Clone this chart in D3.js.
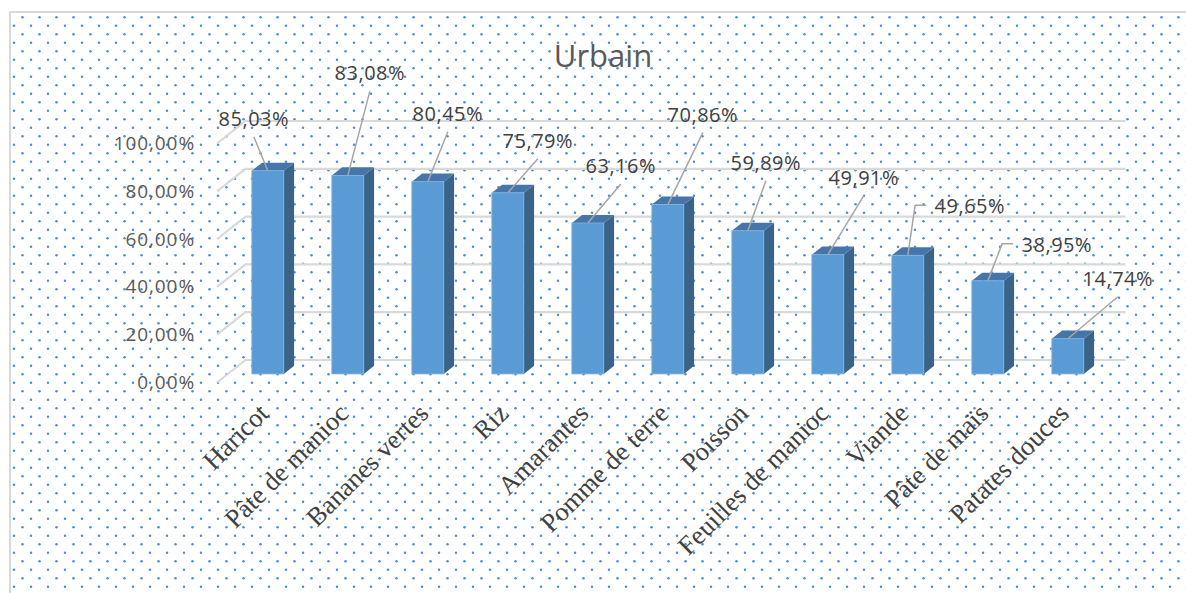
<!DOCTYPE html>
<html>
<head>
<meta charset="utf-8">
<script src="https://cdn.jsdelivr.net/npm/d3@7"></script>
<style>
  body { margin: 0; background: #fff; }
  svg { display: block; }
</style>
</head>
<body>
<script>
const width = 1186
const height = 593

// data
const categories = ['Haricot', 'Pâte de manioc', 'Bananes vertes', 'Riz', 'Amarantes', 'Pomme de terre',
  'Poisson', 'Feuilles de manioc', 'Viande', 'Pâte de maïs', 'Patates douces']
const values = [0.8503, 0.8308, 0.8045, 0.7579, 0.6316, 0.7086, 0.5989, 0.4991, 0.4965, 0.3895, 0.1474]
const yTicks = [0, 0.2, 0.4, 0.6, 0.8, 1]
const title = 'Urbain'

// where each data label sits, relative to the top of its bar (label centre x, baseline y)
const labelNudge = [[-14, -45], [22, -95], [20, -61], [30, -45], [33, -50], [35, -83],
  [18, -61], [36, -70], [62, -42], [69, -29], [50, -53]]
const elbowed = [8, 9]

const fr = d3.formatLocale({ decimal: ',', thousands: ' ', grouping: [3], currency: ['', ' €'] })
const pct = fr.format('.2%')

// 3d look: the depth vector of the plot box and where the bars sit inside it
const DX = 28.5
const DY = -22.5
const d1 = 0.38
const d2 = 0.74
const barW = 32

const svg = d3.select('body').append('svg')
  .attr('width', width)
  .attr('height', height)

const defs = svg.append('defs')
const pat = defs.append('pattern')
  .attr('id', 'dots')
  .attr('patternUnits', 'userSpaceOnUse')
  .attr('x', 0).attr('y', -5)
  .attr('width', 17).attr('height', 17)
pat.append('circle').attr('cx', 14).attr('cy', 13.7).attr('r', 1.25).attr('fill', '#4a8fd6')
pat.append('circle').attr('cx', 5.5).attr('cy', 5.2).attr('r', 1.25).attr('fill', '#4a8fd6')

// chart area with border
svg.append('rect')
  .attr('x', 10).attr('y', 12)
  .attr('width', 1200).attr('height', 600)
  .attr('fill', 'url(#dots)')
  .attr('stroke', '#d9d9d9')
  .attr('stroke-width', 2)

const x = d3.scaleBand().domain(categories).range([217, 1097])
const y = d3.scaleLinear().domain([0, 1]).range([382.5, 143.5])

// gridlines: short diagonal on the side, then along the back wall
const grid = svg.append('g')
  .attr('fill', 'none')
  .attr('stroke', '#d9d9d9')
  .attr('stroke-width', 2.2)
grid.selectAll('path')
  .data(yTicks)
  .join('path')
  .attr('d', t => {
    const p = d3.path()
    p.moveTo(x.range()[0], y(t))
    p.lineTo(x.range()[0] + DX, y(t) + DY)
    p.lineTo(x.range()[1] + DX, y(t) + DY)
    return p.toString()
  })

// value axis
const yAxis = svg.append('g')
  .attr('transform', 'translate(205,0)')
  .call(d3.axisLeft(y).tickValues(yTicks).tickFormat(pct).tickSize(0).tickPadding(10))
yAxis.select('.domain').remove()
yAxis.selectAll('text')
  .attr('fill', '#595959')
  .style('font-family', '"Open Sans", sans-serif')
  .style('font-size', '19px')
  .style('letter-spacing', '0.9px')

// bars
const cx = c => x(c) + x.bandwidth() / 2
const front = (c, v) => ({ x: cx(c) - barW / 2 + d1 * DX, y: y(v) + d1 * DY })
const dd = d2 - d1

const bars = svg.append('g')
  .selectAll('g')
  .data(categories.map((c, i) => ({ c, v: values[i], i })))
  .join('g')

bars.append('path')
  .attr('fill', '#3a6389')
  .attr('d', d => {
    const f = front(d.c, d.v)
    const b = y(0) + d1 * DY
    return `M${f.x + barW},${f.y}L${f.x + barW + dd * DX},${f.y + dd * DY}L${f.x + barW + dd * DX},${b + dd * DY}L${f.x + barW},${b}Z`
  })
bars.append('path')
  .attr('fill', '#4676a9')
  .attr('d', d => {
    const f = front(d.c, d.v)
    return `M${f.x},${f.y}L${f.x + dd * DX},${f.y + dd * DY}L${f.x + barW + dd * DX},${f.y + dd * DY}L${f.x + barW},${f.y}Z`
  })
bars.append('rect')
  .attr('fill', '#5b9bd5')
  .attr('stroke', '#7fb2e3')
  .attr('stroke-width', 0.8)
  .attr('x', d => front(d.c, d.v).x)
  .attr('y', d => front(d.c, d.v).y)
  .attr('width', barW)
  .attr('height', d => y(0) - y(d.v))

// data labels with leader lines
const labels = svg.append('g')
labels.selectAll('g')
  .data(categories.map((c, i) => ({ c, v: values[i], i })))
  .join('g')
  .each(function (d) {
    const g = d3.select(this)
    const top = front(d.c, d.v)
    const bx = top.x + barW / 2
    const by = top.y
    const lx = bx + labelNudge[d.i][0]
    const ly = by + labelNudge[d.i][1]
    const txt = g.append('text')
      .attr('x', lx)
      .attr('y', ly)
      .attr('text-anchor', 'middle')
      .attr('fill', '#404040')
      .style('font-family', '"Open Sans", sans-serif')
      .style('font-size', '20px')
      .style('letter-spacing', '0.5px')
      .text(pct(d.v))
    const p = d3.path()
    p.moveTo(bx, by)
    if (elbowed.includes(d.i)) {
      const w = txt.node().getComputedTextLength()
      const sx = lx - w / 2 - 8.5
      p.lineTo(sx - 11, ly - 8)
      p.lineTo(sx, ly - 8)
    } else {
      p.lineTo(lx, ly + 11)
    }
    g.insert('path', 'text')
      .attr('d', p.toString())
      .attr('fill', 'none')
      .attr('stroke', '#a6a6a6')
      .attr('stroke-width', 1.5)
  })

// category labels
svg.append('g')
  .selectAll('text')
  .data(categories)
  .join('text')
  .attr('transform', c => `translate(${cx(c) + 13},415) rotate(-45)`)
  .attr('text-anchor', 'end')
  .attr('fill', '#404040')
  .style('font-family', '"Liberation Serif", "Times New Roman", serif')
  .style('font-size', '26.5px')
  .text(c => c)

// title
svg.append('text')
  .attr('x', 603)
  .attr('y', 66.5)
  .attr('text-anchor', 'middle')
  .attr('fill', '#595959')
  .style('font-family', '"Open Sans", sans-serif')
  .style('font-size', '31px')
  .text(title)
</script>
</body>
</html>
